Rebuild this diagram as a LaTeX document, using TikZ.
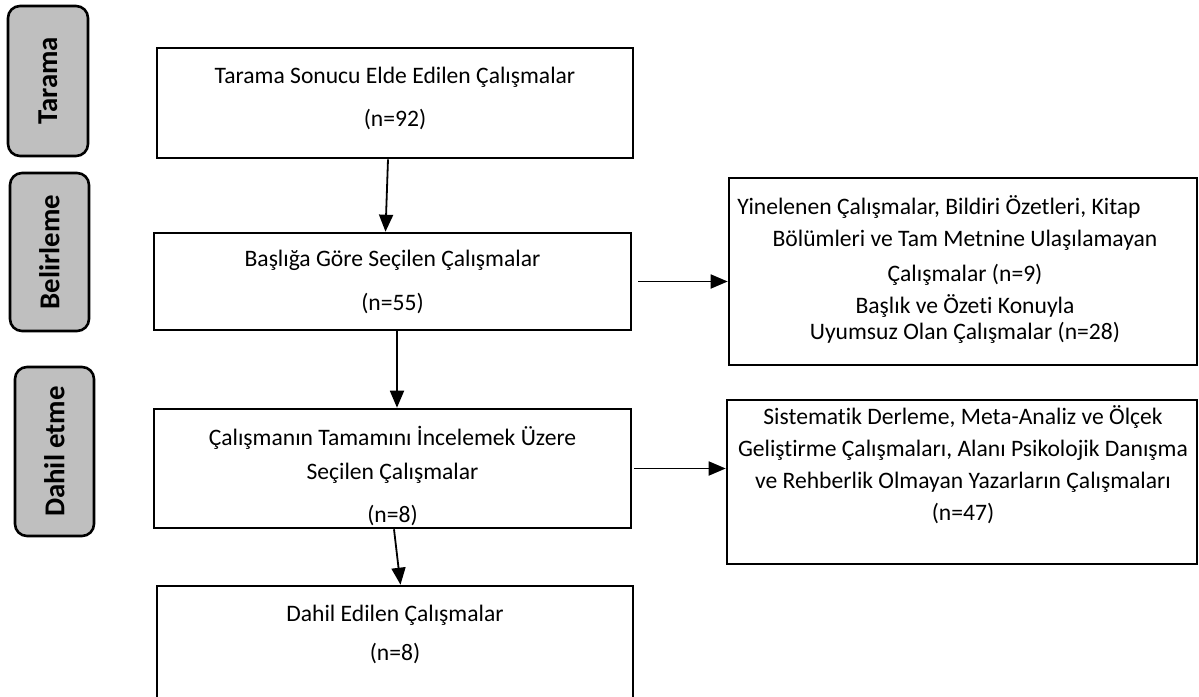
\documentclass[tikz,border=0pt]{standalone}
\usepackage{fontspec}
\setmainfont{Carlito}[Ligatures=NoCommon, RawFeature={-liga;-clig}]
\usetikzlibrary{arrows.meta}

\definecolor{phasegray}{RGB}{191,191,191}

\tikzset{
  box/.style={draw, line width=2.6pt, rectangle, inner sep=0pt},
  phase/.style={draw, line width=2.6pt, rounded corners=12pt, fill=phasegray, inner sep=0pt},
  phasetxt/.style={rotate=90, inner sep=0pt, font=\fontsize{28.8}{34}\selectfont\bfseries},
  txt/.style={inner sep=0pt, align=center, font=\fontsize{23.6}{28}\selectfont},
  arr/.style={line width=1.8pt, -{Triangle[length=17pt,width=14pt]}}
}

\begin{document}
\begin{tikzpicture}[x=1pt, y=-1pt]
\clip (0,0) rectangle (1199,696);

% phases on the left
\node[phase, minimum width=80pt, minimum height=150pt] (PT) at (48,81){};
\node[phase, minimum width=79pt, minimum height=158pt] (PB) at (49.5,252){};
\node[phase, minimum width=79pt, minimum height=169pt] (PD) at (54.5,451.5){};
\node[phasetxt] (PTt) at (PT){Tarama};
\node[phasetxt] (PBt) at (PB){Belirleme};
\node[phasetxt] (PDt) at (PD){Dahil etme};

% main column
\node[box, minimum width=476pt, minimum height=110pt] (B1) at (395,103){};
\node[box, minimum width=477pt, minimum height=97pt] (B2) at (392.5,281.5){};
\node[box, minimum width=477pt, minimum height=119pt] (B3) at (392.5,468.5){};
\node[box, minimum width=476pt, minimum height=120pt] (B4) at (395,646){};
\node[txt] (B1t) at (395,98.5){Tarama Sonucu Elde Edilen Çalışmalar\\[15pt](n=92)};
\node[txt] (B2t) at (392.5,282){Başlığa Göre Seçilen Çalışmalar\\[16pt](n=55)};
\node[txt] (B3t) at (392.5,476.5){Çalışmanın Tamamını İncelemek Üzere\\[6pt]Seçilen Çalışmalar\\[15pt](n=8)};
\node[txt] (B4t) at (395,634.5){Dahil Edilen Çalışmalar\\[11pt](n=8)};

% excluded studies
\node[box, minimum width=468pt, minimum height=187pt] (R1) at (963,271.5){};
\node[box, minimum width=470pt, minimum height=164pt] (R2) at (962,482){};
\node[txt] (R1t) at (965,269.5){Yinelenen Çalışmalar, Bildiri Özetleri, Kitap\hspace*{52pt}\\[4pt]
Bölümleri ve Tam Metnine Ulaşılamayan\\[7pt]Çalışmalar (n=9)\\[4pt]
Başlık ve Özeti Konuyla\\[-2pt]Uyumsuz Olan Çalışmalar (n=28)};
\node[txt] (R2t) at (963,464.5){Sistematik Derleme, Meta-Analiz ve Ölçek\\[4pt]
Geliştirme Çalışmaları, Alanı Psikolojik Danışma\\[4pt]
ve Rehberlik Olmayan Yazarların Çalışmaları\\[4pt](n=47)};

% arrows
\foreach \from/\to/\dx in {B1/B2/-7, B2/B3/4.5}
  \draw[arr] ([xshift=\dx]\from.south) -- ([xshift=\dx]\to.north);
\draw[arr] ([xshift=1.5]B3.south) -- ([xshift=5.5]B4.north);
\draw[arr] ([xshift=6]B2.east) -- (B2.east -| R1.west);
\draw[arr] ([xshift=2]B3.east) -- (B3.east -| R2.west);
\end{tikzpicture}
\end{document}
